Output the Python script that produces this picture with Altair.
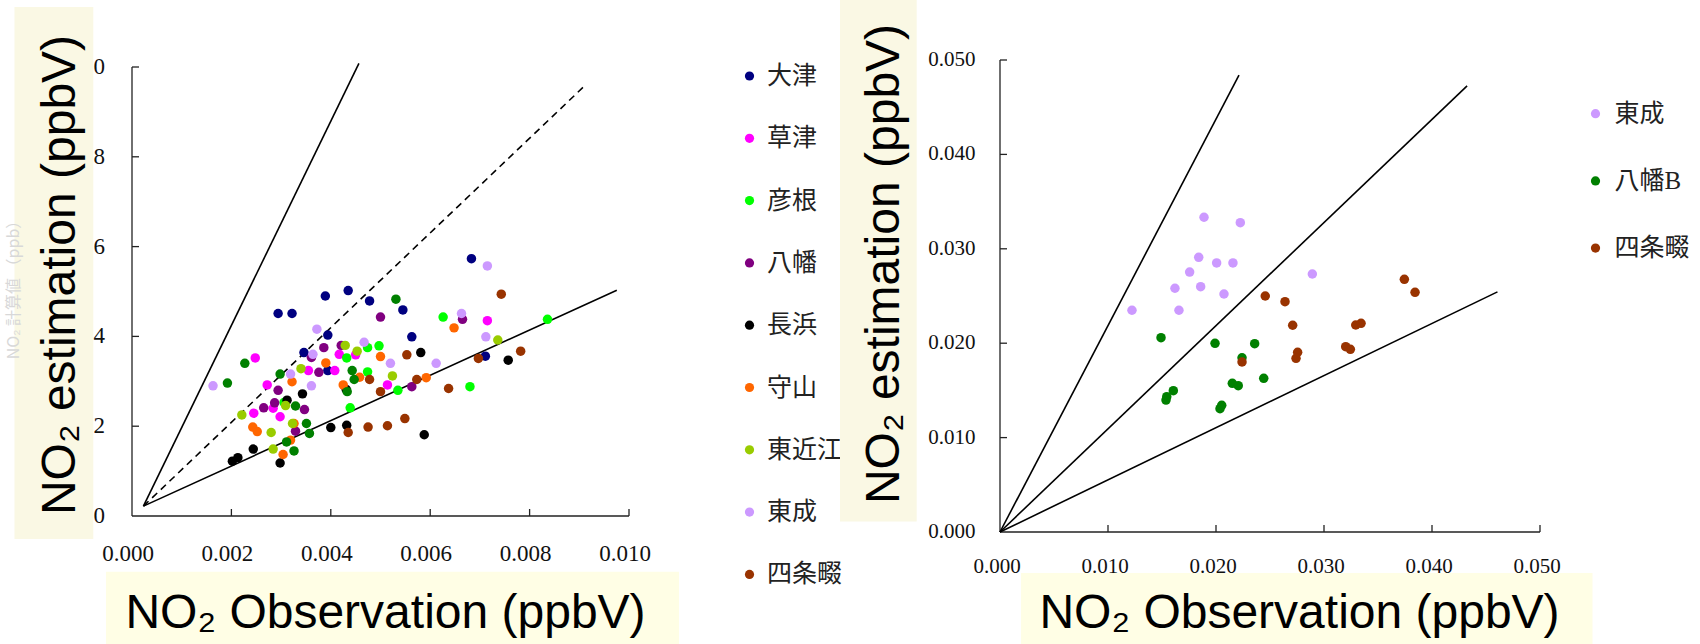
import altair as alt
import pandas as pd

# ---------------- data (left panel, 滋賀) ----------------
left_series = ["大津", "草津", "彦根", "八幡", "長浜", "守山", "東近江", "東成", "四条畷", "八幡B"]
left_colors = ["#000080", "#FF00FF", "#00FF00", "#800080", "#000000",
               "#FF6600", "#99CC00", "#CC99FF", "#993300", "#008000"]
left_legend_names = ["大津", "草津", "彦根", "八幡", "長浜", "守山", "東近江", "東成", "四条畷"]

otsu_x = [0.00389, 0.00435, 0.00478, 0.00294, 0.00322, 0.00394, 0.00346, 0.00394, 0.00683, 0.00545, 0.00563, 0.00711]
otsu_y = [4.90, 5.02, 4.79, 4.51, 4.51, 4.03, 3.64, 3.24, 5.73, 4.59, 3.99, 3.56]
kusatsu_x = [0.00248, 0.00272, 0.00245, 0.00284, 0.00298, 0.00355, 0.00408, 0.00417, 0.00450, 0.00715, 0.00514]
kusatsu_y = [3.52, 2.92, 2.29, 2.40, 2.21, 3.24, 3.24, 3.60, 3.59, 4.35, 2.92]
hikone_x = [0.00432, 0.00474, 0.00497, 0.00474, 0.00439, 0.00306, 0.00626, 0.00836, 0.00535, 0.00680]
hikone_y = [3.52, 3.75, 3.79, 3.21, 2.41, 2.53, 4.43, 4.38, 2.80, 2.88]
yawata_x = [0.00500, 0.00386, 0.00361, 0.00376, 0.00294, 0.00265, 0.00287, 0.00347, 0.00329, 0.00421, 0.00665, 0.00563]
yawata_y = [4.43, 3.75, 3.53, 3.20, 2.80, 2.41, 2.52, 2.37, 1.89, 3.80, 4.38, 2.88]
nagahama_x = [0.00343, 0.00312, 0.00431, 0.00400, 0.00432, 0.00244, 0.00213, 0.00202, 0.00298, 0.00581, 0.00757, 0.00588]
nagahama_y = [2.72, 2.58, 2.82, 1.97, 2.02, 1.49, 1.30, 1.22, 1.18, 3.64, 3.47, 1.81]
moriyama_x = [0.00390, 0.00322, 0.00425, 0.00458, 0.00500, 0.00326, 0.00243, 0.00252, 0.00319, 0.00304, 0.00648, 0.00592]
moriyama_y = [3.41, 2.99, 2.92, 3.09, 3.55, 2.06, 1.98, 1.88, 1.69, 1.37, 4.19, 3.08]
higashiomi_x = [0.00340, 0.00429, 0.00453, 0.00221, 0.00309, 0.00323, 0.00280, 0.00284, 0.00524, 0.00736]
higashiomi_y = [3.28, 3.80, 3.67, 2.25, 2.46, 2.06, 1.86, 1.49, 3.12, 3.92]
higashinari_x = [0.00372, 0.00467, 0.00364, 0.00319, 0.00361, 0.00163, 0.00715, 0.00663, 0.00712, 0.00520, 0.00612]
higashinari_y = [4.16, 3.87, 3.60, 3.16, 2.90, 2.90, 5.57, 4.51, 3.99, 3.40, 3.40]
shijo_x = [0.00478, 0.00500, 0.00435, 0.00475, 0.00743, 0.00553, 0.00782, 0.00697, 0.00573, 0.00637, 0.00514, 0.00549]
shijo_y = [3.04, 2.77, 1.86, 1.98, 4.94, 3.59, 3.67, 3.51, 3.04, 2.84, 2.01, 2.17]
yawatab_x = [0.00227, 0.00192, 0.00298, 0.00443, 0.00447, 0.00433, 0.00329, 0.00351, 0.00357, 0.00311, 0.00326, 0.00531]
yawatab_y = [3.40, 2.96, 3.16, 3.24, 3.04, 2.77, 2.45, 2.06, 1.84, 1.65, 1.45, 4.83]

left_xs = [otsu_x, kusatsu_x, hikone_x, yawata_x, nagahama_x, moriyama_x,
           higashiomi_x, higashinari_x, shijo_x, yawatab_x]
left_ys = [otsu_y, kusatsu_y, hikone_y, yawata_y, nagahama_y, moriyama_y,
           higashiomi_y, higashinari_y, shijo_y, yawatab_y]

# reference lines (left): start / end points
left_line_kind = ["solid", "dashed", "solid"]
left_line_x1 = [0.00023, 0.00023, 0.00023]
left_line_y1 = [0.22, 0.22, 0.22]
left_line_x2 = [0.004566, 0.009087, 0.009755]
left_line_y2 = [10.08, 9.56, 5.03]

left_x_ticks = [0.0, 0.002, 0.004, 0.006, 0.008, 0.010]
left_x_labels = ["0.000", "0.002", "0.004", "0.006", "0.008", "0.010"]
left_y_ticks = [0, 2, 4, 6, 8, 10]
left_y_labels = ["0", "2", "4", "6", "8", "0"]

# ---------------- data (right panel, 大阪) ----------------
right_series = ["東成", "八幡B", "四条畷"]
right_colors = ["#CC99FF", "#008000", "#993300"]

r_higashinari_x = [0.01889, 0.02225, 0.01840, 0.02006, 0.02157, 0.01756, 0.01620, 0.01858, 0.02074, 0.01222, 0.01657, 0.02892]
r_higashinari_y = [0.03334, 0.03277, 0.02910, 0.02850, 0.02850, 0.02754, 0.02582, 0.02599, 0.02521, 0.02349, 0.02349, 0.02733]
r_yawatab_x = [0.01491, 0.01991, 0.02358, 0.02241, 0.02442, 0.02151, 0.02206, 0.01605, 0.01537, 0.01544, 0.02053, 0.02037]
r_yawatab_y = [0.02058, 0.01999, 0.01995, 0.01846, 0.01628, 0.01575, 0.01550, 0.01497, 0.01398, 0.01433, 0.01342, 0.01306]
r_shijo_x = [0.02456, 0.02639, 0.02710, 0.03744, 0.03843, 0.03294, 0.03343, 0.03201, 0.03244, 0.02756, 0.02741, 0.02241]
r_shijo_y = [0.02500, 0.02440, 0.02190, 0.02677, 0.02539, 0.02193, 0.02211, 0.01963, 0.01935, 0.01904, 0.01840, 0.01801]

right_xs = [r_higashinari_x, r_yawatab_x, r_shijo_x]
right_ys = [r_higashinari_y, r_yawatab_y, r_shijo_y]

right_line_x1 = [0.0, 0.0, 0.0]
right_line_y1 = [0.0, 0.0, 0.0]
right_line_x2 = [0.02213, 0.04325, 0.04606]
right_line_y2 = [0.04839, 0.04726, 0.02544]

right_ticks = [0.0, 0.01, 0.02, 0.03, 0.04, 0.05]
right_labels = ["0.000", "0.010", "0.020", "0.030", "0.040", "0.050"]

# ---------------- texts ----------------
x_title = "NO₂ Observation (ppbV)"
y_title = "NO₂ estimation (ppbV)"
ghost_title = "NO₂ 計算値 （ppb）"

# ---------------- styling ----------------
SERIF = "'Liberation Serif', 'Noto Sans CJK JP'"
SANS = "'Liberation Sans', Arial"
AXIS_COLOR = "#222222"
LABEL_COLOR = "#111111"
BOX_X = "#FFFEE5"
BOX_Y = "#FAF8E4"

LW, LH = 497, 472        # left plot size (y extended so both panels share top/bottom)
RW, RH = 540, 472
L_YDOM = [-16 / 44.9, 10 + 7 / 44.9]

one = pd.DataFrame({"k": [0]})


def points_df(names, xs, ys):
    rows = []
    order = 0
    for n, xl, yl in zip(names, xs, ys):
        for xv, yv in zip(xl, yl):
            rows.append({"series": n, "x": xv, "y": yv, "o": order})
            order += 1
    return pd.DataFrame(rows)


def box(x1, x2, y1, y2, color):
    return alt.Chart(one).mark_rect(color=color).encode(
        x=alt.value(x1), x2=alt.value(x2), y=alt.value(y1), y2=alt.value(y2))


def text(t, x, y, size, angle=0, color="#000000", font=SANS):
    return alt.Chart(pd.DataFrame({"t": [t]})).mark_text(
        font=font, fontSize=size, color=color, angle=angle,
        align="center", baseline="alphabetic").encode(
        x=alt.value(x), y=alt.value(y), text="t:N")


def axis_layers(xs, ys, x_ticks, x_labels, y_ticks, y_labels, x_end, y_end,
                size, xdx, xdy, ydx):
    xa = alt.Chart(one).mark_rule(color=AXIS_COLOR, strokeWidth=1.3).encode(
        x=alt.X(datum=0.0, scale=xs, axis=None), x2=alt.X2(datum=x_end),
        y=alt.Y(datum=0.0, scale=ys, axis=None))
    ya = alt.Chart(one).mark_rule(color=AXIS_COLOR, strokeWidth=1.3).encode(
        x=alt.X(datum=0.0, scale=xs, axis=None),
        y=alt.Y(datum=0.0, scale=ys, axis=None), y2=alt.Y2(datum=y_end))
    xt = alt.Chart(pd.DataFrame({"t": x_ticks[1:]})).mark_rule(
        color=AXIS_COLOR, strokeWidth=1.3, y2Offset=-7).encode(
        x=alt.X("t:Q", scale=xs, axis=None),
        y=alt.Y(datum=0.0, scale=ys, axis=None), y2=alt.Y2(datum=0.0))
    yt = alt.Chart(pd.DataFrame({"t": y_ticks[1:]})).mark_rule(
        color=AXIS_COLOR, strokeWidth=1.3, x2Offset=7).encode(
        y=alt.Y("t:Q", scale=ys, axis=None),
        x=alt.X(datum=0.0, scale=xs, axis=None), x2=alt.X2(datum=0.0))
    xl = alt.Chart(pd.DataFrame({"t": x_ticks, "lab": x_labels})).mark_text(
        font=SERIF, fontSize=size, color=LABEL_COLOR, align="center",
        baseline="alphabetic", dx=xdx, dy=xdy).encode(
        x=alt.X("t:Q", scale=xs, axis=None),
        y=alt.Y(datum=0.0, scale=ys, axis=None), text="lab:N")
    yl = alt.Chart(pd.DataFrame({"t": y_ticks, "lab": y_labels})).mark_text(
        font=SERIF, fontSize=size, color=LABEL_COLOR, align="right",
        baseline="middle", dx=ydx).encode(
        y=alt.Y("t:Q", scale=ys, axis=None),
        x=alt.X(datum=0.0, scale=xs, axis=None), text="lab:N")
    return [xa, ya, xt, yt, xl, yl]


# ================= LEFT PANEL =================
lx_scale = alt.Scale(domain=[0, 0.010], nice=False, zero=False)
ly_scale = alt.Scale(domain=L_YDOM, nice=False, zero=False)

ldf = points_df(left_series, left_xs, left_ys)

l_bg = alt.Chart(one).mark_rect(opacity=0).encode(
    x=alt.value(-132), x2=alt.value(1700 - 132), y=alt.value(-60), y2=alt.value(644 - 60))

l_points = alt.Chart(ldf).mark_circle(size=90, opacity=1).encode(
    x=alt.X("x:Q", scale=lx_scale, axis=None),
    y=alt.Y("y:Q", scale=ly_scale, axis=None),
    color=alt.Color("series:N", scale=alt.Scale(domain=left_series, range=left_colors),
                    legend=alt.Legend(values=left_legend_names, title=None, orient="none",
                                      legendX=605, legendY=3.5, direction="vertical",
                                      symbolType="circle", symbolSize=85, symbolStrokeWidth=0,
                                      symbolOpacity=1, labelFont=SERIF, labelFontSize=25,
                                      labelColor="#222222", labelOffset=5, rowPadding=36.3,
                                      padding=0, offset=0)),
    order="o:Q",
)

l_lines_df = pd.DataFrame({"kind": left_line_kind, "x1": left_line_x1, "y1": left_line_y1,
                           "x2": left_line_x2, "y2": left_line_y2})
l_lines_solid = alt.Chart(l_lines_df).transform_filter("datum.kind == 'solid'").mark_rule(
    color="#000000", strokeWidth=1.6).encode(
    x=alt.X("x1:Q", scale=lx_scale, axis=None), y=alt.Y("y1:Q", scale=ly_scale, axis=None),
    x2="x2:Q", y2="y2:Q")
l_lines_dash = alt.Chart(l_lines_df).transform_filter("datum.kind == 'dashed'").mark_rule(
    color="#000000", strokeWidth=1.6, strokeDash=[7, 5]).encode(
    x=alt.X("x1:Q", scale=lx_scale, axis=None), y=alt.Y("y1:Q", scale=ly_scale, axis=None),
    x2="x2:Q", y2="y2:Q")

left = alt.layer(
    l_bg,
    box(-117.5, -38.7, -53, 479, BOX_Y),
    text(ghost_title, -113, 226, 16, angle=270, color="#d8d8d8",
         font="'Noto Sans CJK JP', 'Liberation Sans'"),
    text(y_title, -57, 215, 48, angle=270),
    *axis_layers(lx_scale, ly_scale, left_x_ticks, left_x_labels, left_y_ticks,
                 left_y_labels, 0.010, 10, 23, -4, 45, -27),
    box(-26, 547, 511.7, 584, BOX_X),
    text(x_title, 253.5, 568, 48),
    l_lines_solid, l_lines_dash,
    l_points,
).properties(width=LW, height=LH)

# ================= RIGHT PANEL =================
rx_scale = alt.Scale(domain=[0, 0.05], nice=False, zero=False)
ry_scale = alt.Scale(domain=[0, 0.05], nice=False, zero=False)

rdf = points_df(right_series, right_xs, right_ys)

r_points = alt.Chart(rdf).mark_circle(size=90, opacity=1).encode(
    x=alt.X("x:Q", scale=rx_scale, axis=None),
    y=alt.Y("y:Q", scale=ry_scale, axis=None),
    color=alt.Color("series:N", scale=alt.Scale(domain=right_series, range=right_colors),
                    legend=alt.Legend(title=None, orient="none", legendX=583, legendY=41.2,
                                      direction="vertical", symbolType="circle", symbolSize=85,
                                      symbolStrokeWidth=0, symbolOpacity=1, labelFont=SERIF,
                                      labelFontSize=25, labelColor="#222222", labelOffset=6.5,
                                      rowPadding=41.2, padding=0, offset=0)),
    order="o:Q",
)

r_lines_df = pd.DataFrame({"x1": right_line_x1, "y1": right_line_y1,
                           "x2": right_line_x2, "y2": right_line_y2})
r_lines = alt.Chart(r_lines_df).mark_rule(color="#000000", strokeWidth=1.6).encode(
    x=alt.X("x1:Q", scale=rx_scale, axis=None), y=alt.Y("y1:Q", scale=ry_scale, axis=None),
    x2="x2:Q", y2="y2:Q")

right = alt.layer(
    box(-160, -83.3, -60, 461.6, BOX_Y),
    text(y_title, -101, 204, 48, angle=270),
    *axis_layers(rx_scale, ry_scale, right_ticks, right_labels, right_ticks,
                 right_labels, 0.05, 0.05, 21, -3, 41, -24.5),
    box(21, 592.5, 513, 584, BOX_X),
    text(x_title, 299.5, 568, 48),
    r_lines,
    r_points,
).properties(width=RW, height=RH)

chart = alt.hconcat(left, right, spacing=371, bounds="flush").resolve_scale(
    x="independent", y="independent", color="independent"
).configure_view(stroke=None).properties(padding=0, background="white")

chart.save("out.html", embed_options={"renderer": "svg", "actions": False})
